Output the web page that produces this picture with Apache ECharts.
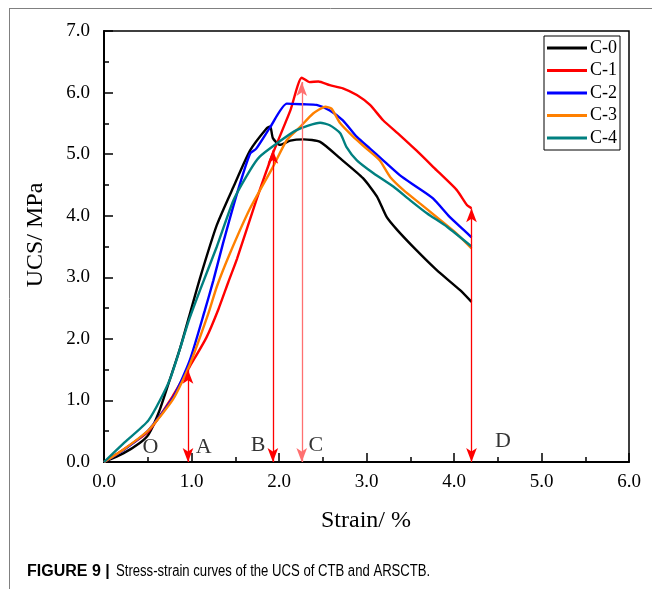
<!DOCTYPE html>
<html>
<head>
<meta charset="utf-8">
<script src="https://cdn.jsdelivr.net/npm/echarts@6/dist/echarts.min.js"></script>
<style>
  html, body { margin: 0; padding: 0; background: #fff; }
  #chart { width: 652px; height: 589px; }
</style>
</head>
<body>
<div id="chart"></div>
<script>
// stress-strain data (strain %, UCS MPa)
const seriesNames = ['C-0', 'C-1', 'C-2', 'C-3', 'C-4']
const seriesColors = ['#000000', '#ff0000', '#0000ff', '#ff8000', '#008080']

const c0Strain = [0, 0.22, 0.40, 0.51, 0.63, 0.75, 0.87, 0.97, 1.10, 1.29, 1.48, 1.67, 1.86, 1.90, 1.93, 2.01, 2.13, 2.28, 2.47, 2.70, 2.96, 3.12, 3.23, 3.35, 3.57, 3.80, 4.07, 4.20]
const c0Stress = [0, 0.14, 0.30, 0.45, 0.82, 1.33, 1.85, 2.35, 3.00, 3.85, 4.47, 5.06, 5.42, 5.45, 5.26, 5.15, 5.22, 5.24, 5.20, 4.93, 4.61, 4.31, 3.98, 3.77, 3.44, 3.12, 2.79, 2.60]

const c1Strain = [0, 0.22, 0.51, 0.79, 0.98, 1.17, 1.31, 1.42, 1.52, 1.74, 1.93, 2.13, 2.26, 2.35, 2.45, 2.58, 2.73, 2.89, 3.04, 3.19, 3.38, 3.57, 3.80, 4.03, 4.15, 4.20]
const c1Stress = [0, 0.20, 0.50, 1.08, 1.55, 2.02, 2.49, 2.92, 3.30, 4.25, 5.01, 5.71, 6.24, 6.17, 6.18, 6.12, 6.07, 5.96, 5.80, 5.55, 5.31, 5.06, 4.74, 4.42, 4.17, 4.12]

const c2Strain = [0, 0.22, 0.51, 0.79, 0.98, 1.15, 1.25, 1.36, 1.52, 1.67, 1.74, 1.90, 2.09, 2.28, 2.43, 2.58, 2.73, 2.89, 3.04, 3.19, 3.38, 3.57, 3.76, 3.95, 4.11, 4.20]
const c2Stress = [0, 0.19, 0.52, 1.05, 1.65, 2.45, 2.95, 3.55, 4.36, 5.01, 5.09, 5.44, 5.82, 5.81, 5.80, 5.71, 5.55, 5.28, 5.09, 4.90, 4.66, 4.47, 4.28, 3.98, 3.77, 3.65]

const c3Strain = [0, 0.22, 0.51, 0.79, 0.98, 1.19, 1.29, 1.44, 1.67, 1.93, 2.09, 2.24, 2.39, 2.53, 2.60, 2.70, 2.85, 3.00, 3.15, 3.27, 3.42, 3.61, 3.80, 4.03, 4.20]
const c3Stress = [0, 0.20, 0.52, 1.02, 1.58, 2.40, 2.85, 3.39, 4.12, 4.79, 5.23, 5.44, 5.66, 5.77, 5.74, 5.50, 5.28, 5.09, 4.90, 4.63, 4.42, 4.20, 3.98, 3.71, 3.47]

const c4Strain = [0, 0.22, 0.51, 0.75, 0.97, 1.10, 1.29, 1.48, 1.67, 1.78, 1.97, 2.20, 2.47, 2.58, 2.70, 2.77, 2.89, 3.08, 3.31, 3.50, 3.69, 3.92, 4.20]
const c4Stress = [0, 0.30, 0.68, 1.33, 2.30, 2.80, 3.50, 4.25, 4.74, 4.96, 5.17, 5.39, 5.51, 5.47, 5.34, 5.12, 4.90, 4.69, 4.47, 4.25, 4.04, 3.82, 3.50]

// red stage arrows (strain position, top stress)
const arrowStrain = [0.96, 1.93, 2.26, 4.20]
const arrowTop = [1.50, 5.07, 6.17, 4.12]
const arrowColors = ['#ff0000', '#ff0000', '#ff7070', '#ff0000']

// stage letters
const stageNames = ['O', 'A', 'B', 'C', 'D']
const stageStrain = [0.53, 1.14, 1.76, 2.42, 4.56]
const stageStress = [0.24, 0.24, 0.28, 0.28, 0.34]

const curves = [
  [c0Strain, c0Stress],
  [c1Strain, c1Stress],
  [c2Strain, c2Stress],
  [c3Strain, c3Stress],
  [c4Strain, c4Stress],
]

const serif = 'Liberation Serif, Times New Roman, serif'
const sans = 'Liberation Sans, Arial, sans-serif'

const chart = echarts.init(document.getElementById('chart'))

const lineSeries = curves.map(([xs, ys], i) => ({
  name: seriesNames[i],
  type: 'line',
  showSymbol: false,
  smooth: 0.2,
  data: xs.map((x, j) => [x, ys[j]]),
  lineStyle: { color: seriesColors[i], width: 2.4 },
  itemStyle: { color: seriesColors[i] },
  z: 3,
}))

// double-headed arrows, same head size at both ends
const arrowSeries = {
  type: 'lines',
  coordinateSystem: 'cartesian2d',
  silent: true,
  symbol: ['arrow', 'arrow'],
  symbolSize: [[8, 14], [8, 14]],
  z: 4,
  data: arrowStrain.map((x, i) => ({
    coords: [[x, 0], [x, arrowTop[i]]],
    lineStyle: { color: arrowColors[i], width: 1.3, opacity: 1 },
  })),
  itemStyle: { color: '#ff0000' },
}

const letterSeries = {
  type: 'scatter',
  silent: true,
  symbolSize: 1,
  itemStyle: { color: 'rgba(0,0,0,0)' },
  data: stageNames.map((n, i) => ({ name: n, value: [stageStrain[i], stageStress[i]] })),
  label: {
    show: true,
    position: 'inside',
    formatter: '{b}',
    fontFamily: serif,
    fontSize: 22,
    color: '#000',
  },
  z: 5,
}

const option = {
  backgroundColor: '#fff',
  animation: false,
  grid: {
    left: 104,
    right: 23,
    top: 31,
    bottom: 127,
    show: true,
    borderColor: '#000',
    borderWidth: 1.5,
  },
  legend: {
    data: seriesNames,
    orient: 'vertical',
    left: 544,
    top: 36,
    padding: [3, 3, 3, 3],
    itemGap: 4.5,
    itemWidth: 40,
    itemHeight: 3,
    icon: 'rect',
    borderColor: '#000',
    borderWidth: 1,
    textStyle: { fontFamily: serif, fontSize: 18, color: '#000', padding: [0, 0, 0, -2] },
  },
  xAxis: {
    type: 'value',
    min: 0,
    max: 6,
    interval: 1,
    axisLine: { lineStyle: { color: '#000', width: 2 } },
    axisTick: { inside: true, length: 9, lineStyle: { color: '#000', width: 1.5 } },
    minorTick: { show: true, splitNumber: 2, length: 5, lineStyle: { color: '#000', width: 1.5 } },
    splitLine: { show: false },
    axisLabel: {
      formatter: v => v.toFixed(1),
      fontFamily: serif,
      fontSize: 19,
      color: '#000',
      margin: 11,
    },
  },
  yAxis: {
    type: 'value',
    min: 0,
    max: 7,
    interval: 1,
    axisLine: { show: true, lineStyle: { color: '#000', width: 2 } },
    axisTick: { show: true, inside: true, length: 9, lineStyle: { color: '#000', width: 1.5 } },
    minorTick: { show: true, splitNumber: 2, length: 5, lineStyle: { color: '#000', width: 1.5 } },
    splitLine: { show: false },
    axisLabel: {
      formatter: v => v.toFixed(1),
      fontFamily: serif,
      fontSize: 19,
      color: '#000',
      margin: 14,
    },
  },
  graphic: [
    { type: 'line', shape: { x1: 9, y1: 8.5, x2: 652, y2: 8.5 }, style: { stroke: '#808080', lineWidth: 1 } },
    { type: 'line', shape: { x1: 9.5, y1: 8, x2: 9.5, y2: 589 }, style: { stroke: '#808080', lineWidth: 1 } },
    {
      type: 'text', x: 36, y: 235, rotation: Math.PI / 2,
      style: { text: 'UCS/ MPa', font: '24px ' + serif, fill: '#000', textAlign: 'center', textVerticalAlign: 'middle' },
    },
    {
      type: 'text', x: 366, y: 521,
      style: { text: 'Strain/ %', font: '24px ' + serif, fill: '#000', textAlign: 'center', textVerticalAlign: 'middle' },
    },
    {
      type: 'text', x: 27, y: 572,
      style: { text: 'FIGURE 9 |', font: 'bold 16px ' + sans, fill: '#000', textVerticalAlign: 'middle' },
    },
    {
      type: 'text', x: 116, y: 572, scaleX: 0.82,
      style: { text: 'Stress-strain curves of the UCS of CTB and ARSCTB.', font: '16px ' + sans, fill: '#000', textVerticalAlign: 'middle' },
    },
  ],
  series: [...lineSeries, arrowSeries, letterSeries],
}

chart.setOption(option)
</script>
</body>
</html>
